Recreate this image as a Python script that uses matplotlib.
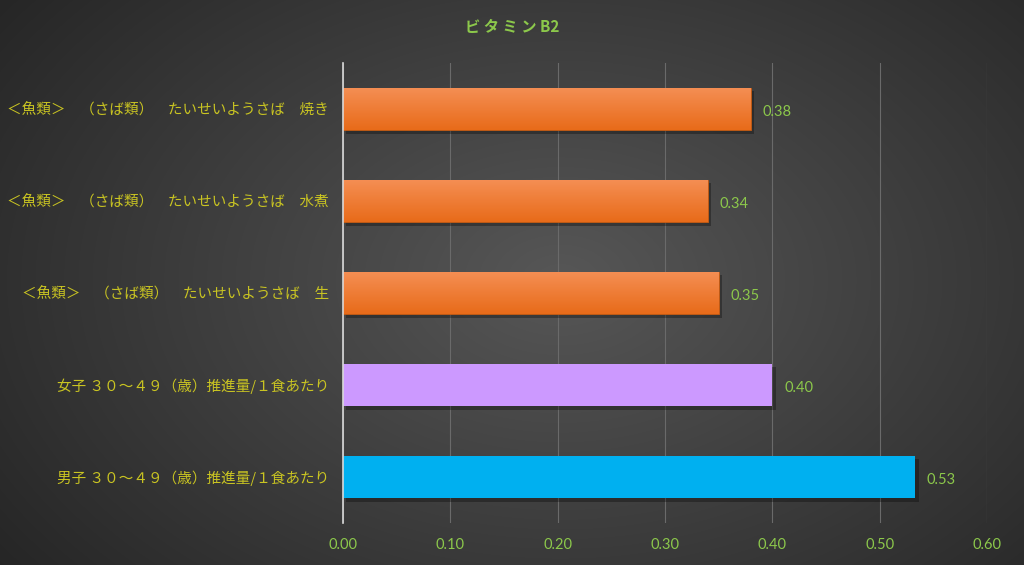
import numpy as np
import matplotlib.pyplot as plt
from matplotlib import patheffects

plt.rcParams['font.family'] = ['Noto Sans CJK JP', 'DejaVu Sans']

# data (top to bottom in the picture)
labels = [
    "＜魚類＞　（さば類）　たいせいようさば　焼き",
    "＜魚類＞　（さば類）　たいせいようさば　水煮",
    "＜魚類＞　（さば類）　たいせいようさば　生",
    "女子 ３０～４９（歳）推進量/１食あたり",
    "男子 ３０～４９（歳）推進量/１食あたり",
]
values = [0.38, 0.34, 0.35, 0.40, 0.533]
value_text = ["0.38", "0.34", "0.35", "0.40", "0.53"]
kinds = ["food", "food", "food", "female", "male"]
ticks = [0.0, 0.1, 0.2, 0.3, 0.4, 0.5, 0.6]

flat_colors = {"female": "#CC99FF", "male": "#00B0F0"}
label_color = "#C9C422"
green = "#8CC84B"

fig = plt.figure(figsize=(10.24, 5.65), dpi=100)

# radial background
bg = fig.add_axes([0, 0, 1, 1], zorder=-10)
yy, xx = np.mgrid[0:565, 0:1024]
r = np.sqrt(((xx - 560) / 620.0) ** 2 + ((yy - 280) / 420.0) ** 2)
shade = np.clip(0.34 - 0.17 * r, 0.13, 0.35)
bg.imshow(np.dstack([shade] * 3), aspect='auto', extent=[0, 1, 0, 1])
bg.axis('off')

ax = fig.add_axes([343 / 1024, 1 - 523 / 565, 644 / 1024, 460 / 565])
ax.patch.set_alpha(0)

y = np.arange(len(labels))
cols = [flat_colors.get(k, "#ED7D31") for k in kinds]
bars = ax.barh(y, values, height=0.46, color=cols, zorder=3)
for b, k in zip(bars, kinds):
    b.set_path_effects([patheffects.SimplePatchShadow(offset=(2.5, -2.5), shadow_rgbFace='black', alpha=0.3),
                        patheffects.Normal()])
    if k == "food":
        b.set_edgecolor("#C55A11")
        b.set_linewidth(0.6)
        x0, y0 = b.get_x(), b.get_y()
        w, h = b.get_width(), b.get_height()
        grad = np.linspace(0, 1, 64).reshape(-1, 1)
        top = np.array([0.96, 0.56, 0.33])
        bot = np.array([0.91, 0.42, 0.10])
        img = top + (bot - top) * grad[..., None]
        im = ax.imshow(img, aspect='auto', extent=[x0, x0 + w, y0 + h, y0], zorder=4)
        im.set_clip_path(b)

for yi, v, t in zip(y, values, value_text):
    ax.text(v + 0.011, yi + 0.03, t, va='center', ha='left', color=green, fontsize=10.5, family=['Lato', 'DejaVu Sans'])

ax.set_ylim(len(labels) - 0.5, -0.5)
ax.set_xlim(0, 0.6)
ax.set_yticks(y)
ax.set_yticklabels(labels, color=label_color, fontsize=10.5)
ax.set_xticks(ticks)
ax.set_xticklabels([f"{t:.2f}" for t in ticks], color=green, fontsize=10.5, family=['Lato', 'DejaVu Sans'])
ax.tick_params(axis='y', length=0, pad=10)
ax.tick_params(axis='x', length=0, pad=11)
ax.grid(axis='x', color='#6A6A6A', linewidth=0.8, zorder=0)
for s in ['top', 'right', 'bottom']:
    ax.spines[s].set_visible(False)
ax.spines['left'].set_color('#D9D9D9')
ax.spines['left'].set_linewidth(1.2)
ax.spines['left'].set_zorder(5)

fig.text(0.5, 1 - 27 / 565, "ビ タ ミ ン B2", ha='center', va='center', color=green, fontsize=11, fontweight='bold')

fig.savefig("out.png", dpi=100)
